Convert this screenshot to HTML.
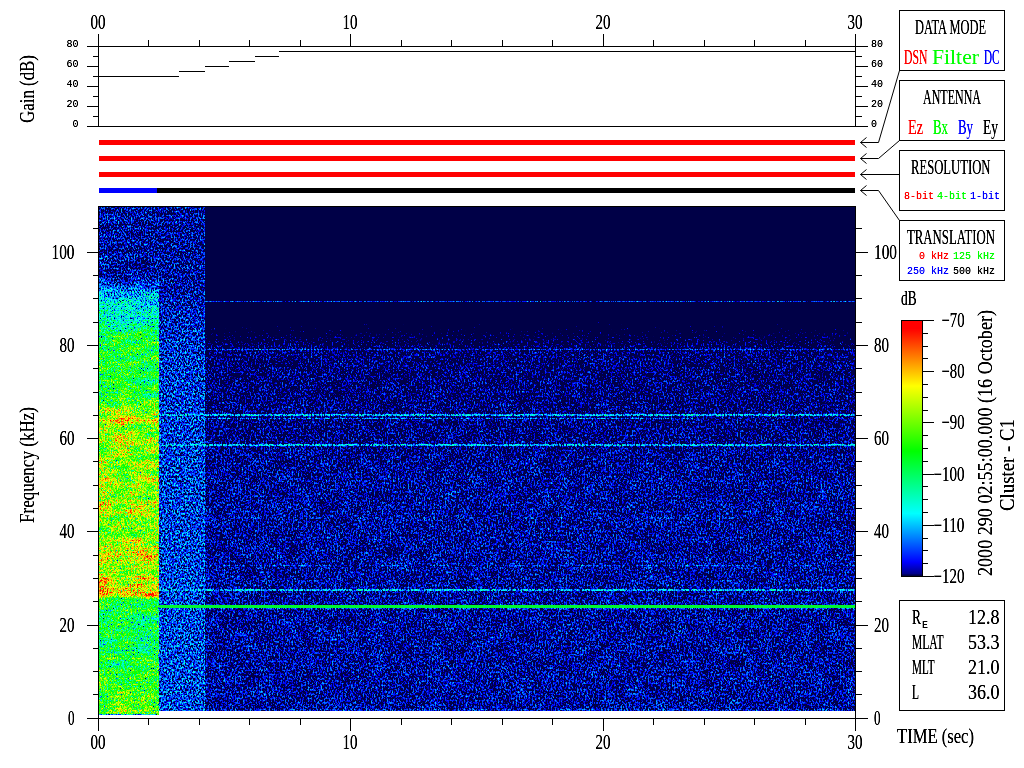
<!DOCTYPE html>
<html><head><meta charset="utf-8"><title>Cluster WBD spectrogram</title>
<style>html,body{margin:0;padding:0;background:#fff;width:1024px;height:768px;overflow:hidden}
svg{display:block}</style></head>
<body>
<svg width="1024" height="768" viewBox="0 0 1024 768">
<defs><linearGradient id="gA" gradientUnits="userSpaceOnUse" x1="0" y1="207" x2="0" y2="715"><stop offset="0.0000" stop-color="#3c3c3c"/><stop offset="0.1339" stop-color="#3c3c3c"/><stop offset="0.1555" stop-color="#4e4e4e"/><stop offset="0.1752" stop-color="#646464"/><stop offset="0.2185" stop-color="#767676"/><stop offset="0.2520" stop-color="#8f8f8f"/><stop offset="0.2717" stop-color="#9d9d9d"/><stop offset="0.3051" stop-color="#9d9d9d"/><stop offset="0.3248" stop-color="#979797"/><stop offset="0.3701" stop-color="#9b9b9b"/><stop offset="0.3898" stop-color="#afafaf"/><stop offset="0.4134" stop-color="#bcbcbc"/><stop offset="0.4193" stop-color="#cecece"/><stop offset="0.4252" stop-color="#cecece"/><stop offset="0.4311" stop-color="#bcbcbc"/><stop offset="0.4508" stop-color="#b6b6b6"/><stop offset="0.4606" stop-color="#c6c6c6"/><stop offset="0.4705" stop-color="#b6b6b6"/><stop offset="0.5276" stop-color="#b6b6b6"/><stop offset="0.5472" stop-color="#c2c2c2"/><stop offset="0.5768" stop-color="#bababa"/><stop offset="0.6004" stop-color="#c6c6c6"/><stop offset="0.6161" stop-color="#b6b6b6"/><stop offset="0.6358" stop-color="#b1b1b1"/><stop offset="0.6654" stop-color="#c2c2c2"/><stop offset="0.6870" stop-color="#cacaca"/><stop offset="0.7047" stop-color="#bebebe"/><stop offset="0.7343" stop-color="#c2c2c2"/><stop offset="0.7500" stop-color="#d6d6d6"/><stop offset="0.7657" stop-color="#d6d6d6"/><stop offset="0.7717" stop-color="#999999"/><stop offset="0.8130" stop-color="#8f8f8f"/><stop offset="0.8622" stop-color="#939393"/><stop offset="0.9114" stop-color="#9d9d9d"/><stop offset="0.9508" stop-color="#a3a3a3"/><stop offset="1.0000" stop-color="#a7a7a7"/></linearGradient><linearGradient id="gB" gradientUnits="userSpaceOnUse" x1="0" y1="207" x2="0" y2="715"><stop offset="0.0000" stop-color="#3c3c3c"/><stop offset="0.1535" stop-color="#3c3c3c"/><stop offset="0.2028" stop-color="#434343"/><stop offset="0.2815" stop-color="#484848"/><stop offset="0.5374" stop-color="#4b4b4b"/><stop offset="1.0000" stop-color="#4d4d4d"/></linearGradient><linearGradient id="gC" gradientUnits="userSpaceOnUse" x1="0" y1="207" x2="0" y2="715"><stop offset="0.0000" stop-color="#000000"/><stop offset="0.2067" stop-color="#000000"/><stop offset="0.2264" stop-color="#141414"/><stop offset="0.2520" stop-color="#232323"/><stop offset="0.2717" stop-color="#2d2d2d"/><stop offset="0.2854" stop-color="#333333"/><stop offset="0.3799" stop-color="#353535"/><stop offset="0.4587" stop-color="#373737"/><stop offset="0.5374" stop-color="#3b3b3b"/><stop offset="1.0000" stop-color="#3c3c3c"/></linearGradient><linearGradient id="cb" gradientUnits="userSpaceOnUse" x1="0" y1="576" x2="0" y2="321"><stop offset="0.0000" stop-color="rgb(0,0,72)"/><stop offset="0.0040" stop-color="rgb(0,0,72)"/><stop offset="0.0080" stop-color="rgb(0,0,135)"/><stop offset="0.0550" stop-color="rgb(0,0,255)"/><stop offset="0.2450" stop-color="rgb(0,255,255)"/><stop offset="0.4900" stop-color="rgb(0,255,0)"/><stop offset="0.7450" stop-color="rgb(255,255,0)"/><stop offset="0.9700" stop-color="rgb(255,0,0)"/><stop offset="1.0000" stop-color="rgb(255,0,0)"/></linearGradient><filter id="fA" filterUnits="userSpaceOnUse" x="99" y="207" width="60" height="508" color-interpolation-filters="sRGB"><feTurbulence type="fractalNoise" baseFrequency="0.7 0.5" numOctaves="2" seed="5"/><feComponentTransfer><feFuncR type="table" tableValues="0.000 0.000 0.000 0.000 0.000 0.000 0.000 0.000 0.000 0.000 0.000 0.000 0.000 0.000 0.000 0.000 0.000 0.000 0.000 0.000 0.000 0.000 0.000 0.000 0.000 0.000 0.000 0.000 0.000 0.000 0.000 0.000 0.000 0.000 0.000 0.000 0.000 0.000 0.000 0.000 0.000 0.000 0.000 0.012 0.030 0.046 0.062 0.076 0.090 0.105 0.119 0.133 0.146 0.159 0.172 0.184 0.198 0.210 0.223 0.235 0.247 0.260 0.271 0.283 0.294 0.307 0.320 0.332 0.344 0.355 0.366 0.377 0.387 0.397 0.406 0.416 0.425 0.433 0.441 0.449 0.456 0.463 0.470 0.477 0.484 0.490 0.496 0.502 0.509 0.514 0.521 0.526 0.532 0.537 0.542 0.547 0.552 0.557 0.562 0.567 0.572 0.577 0.582 0.587 0.592 0.596 0.601 0.606 0.611 0.616 0.621 0.625 0.630 0.635 0.640 0.645 0.650 0.654 0.659 0.664 0.668 0.673 0.678 0.682 0.687 0.691 0.696 0.700 0.712 0.725 0.729 0.733 0.737 0.741 0.745 0.749 0.753 0.758 0.763 0.768 0.773 0.778 0.783 0.787 0.792 0.796 0.801 0.805 0.809 0.813 0.817 0.821 0.824 0.828 0.832 0.836 0.839 0.843 0.846 0.850 0.853 0.857 0.860 0.864 0.867 0.871 0.875 0.878 0.882 0.885 0.889 0.892 0.896 0.899 0.903 0.907 0.911 0.914 0.919 0.923 0.927 0.932 0.936 0.941 0.945 0.950 0.954 0.958 0.963 0.968 0.973 0.978 0.982 0.986 0.990 0.994 0.998 1.000 1.000 1.000 1.000 1.000 1.000 1.000 1.000 1.000 1.000 1.000 1.000 1.000 1.000 1.000 1.000 1.000 1.000 1.000 1.000 1.000 1.000 1.000 1.000 1.000 1.000 1.000 1.000 1.000 1.000 1.000 1.000 1.000 1.000 1.000 1.000 1.000 1.000 1.000 1.000 1.000 1.000 1.000 1.000 1.000 1.000 1.000 1.000 1.000 1.000 1.000 1.000 1.000 1.000 1.000 1.000 1.000 1.000 1.000"/></feComponentTransfer><feColorMatrix type="matrix" values="1 0 0 0 0  1 0 0 0 0  1 0 0 0 0  0 0 0 0 1" result="q"/><feTurbulence type="fractalNoise" baseFrequency="0.045 0.13" numOctaves="2" seed="11"/><feColorMatrix type="matrix" values="1 0 0 0 0  1 0 0 0 0  1 0 0 0 0  0 0 0 0 1" result="lf"/><feComposite in="SourceGraphic" in2="lf" operator="arithmetic" k1="0.55" k2="0.725" k3="0" k4="0" result="L2"/><feComposite in="L2" in2="q" operator="arithmetic" k1="0.2760" k2="0.7930" k3="0.4470" k4="-0.3352"/><feComponentTransfer><feFuncR type="table" tableValues="0.000 0.000 0.000 0.000 0.000 0.000 0.000 0.000 0.000 0.000 0.000 0.000 0.000 0.000 0.000 0.000 0.000 0.000 0.000 0.000 0.000 0.000 0.000 0.000 0.000 0.000 0.000 0.000 0.000 0.000 0.000 0.000 0.000 0.000 0.000 0.000 0.000 0.000 0.000 0.000 0.000 0.000 0.000 0.000 0.000 0.000 0.000 0.000 0.000 0.000 0.000 0.000 0.000 0.000 0.000 0.000 0.000 0.000 0.000 0.000 0.000 0.000 0.000 0.000 0.000 0.000 0.000 0.000 0.000 0.000 0.000 0.000 0.000 0.000 0.000 0.000 0.000 0.000 0.000 0.000 0.000 0.000 0.000 0.000 0.000 0.000 0.000 0.000 0.000 0.000 0.000 0.000 0.000 0.000 0.000 0.000 0.000 0.000 0.000 0.000 0.000 0.000 0.000 0.000 0.000 0.000 0.000 0.000 0.000 0.000 0.000 0.000 0.000 0.000 0.000 0.000 0.000 0.000 0.000 0.000 0.000 0.000 0.000 0.000 0.000 0.000 0.000 0.000 0.000 0.000 0.000 0.000 0.000 0.000 0.000 0.000 0.000 0.000 0.000 0.000 0.000 0.000 0.000 0.000 0.000 0.000 0.000 0.000 0.000 0.000 0.000 0.001 0.020 0.039 0.058 0.078 0.097 0.116 0.135 0.155 0.174 0.193 0.212 0.231 0.251 0.270 0.289 0.308 0.328 0.347 0.366 0.385 0.404 0.424 0.443 0.462 0.481 0.501 0.520 0.539 0.558 0.577 0.597 0.616 0.635 0.654 0.674 0.693 0.712 0.731 0.750 0.770 0.789 0.808 0.827 0.847 0.866 0.885 0.904 0.923 0.943 0.962 0.981 1.000 1.000 1.000 1.000 1.000 1.000 1.000 1.000 1.000 1.000 1.000 1.000 1.000 1.000 1.000 1.000 1.000 1.000 1.000 1.000 1.000 1.000 1.000 1.000 1.000 1.000 1.000 1.000 1.000 1.000 1.000 1.000 1.000 1.000 1.000 1.000 1.000 1.000 1.000 1.000 1.000 1.000 1.000 1.000 1.000 1.000 1.000 1.000 1.000 1.000 1.000 1.000 1.000"/><feFuncG type="table" tableValues="0.000 0.000 0.000 0.000 0.000 0.000 0.000 0.000 0.000 0.000 0.000 0.000 0.000 0.000 0.000 0.000 0.000 0.000 0.000 0.000 0.000 0.000 0.000 0.000 0.000 0.000 0.000 0.000 0.000 0.000 0.000 0.000 0.000 0.000 0.000 0.000 0.000 0.000 0.000 0.000 0.000 0.000 0.000 0.000 0.000 0.000 0.000 0.000 0.000 0.000 0.000 0.000 0.000 0.000 0.000 0.000 0.000 0.000 0.000 0.000 0.000 0.000 0.000 0.020 0.046 0.072 0.098 0.123 0.149 0.175 0.201 0.227 0.252 0.278 0.304 0.330 0.356 0.381 0.407 0.433 0.459 0.485 0.510 0.536 0.562 0.588 0.614 0.639 0.665 0.691 0.717 0.743 0.768 0.794 0.820 0.846 0.872 0.897 0.923 0.949 0.975 1.000 1.000 1.000 1.000 1.000 1.000 1.000 1.000 1.000 1.000 1.000 1.000 1.000 1.000 1.000 1.000 1.000 1.000 1.000 1.000 1.000 1.000 1.000 1.000 1.000 1.000 1.000 1.000 1.000 1.000 1.000 1.000 1.000 1.000 1.000 1.000 1.000 1.000 1.000 1.000 1.000 1.000 1.000 1.000 1.000 1.000 1.000 1.000 1.000 1.000 1.000 1.000 1.000 1.000 1.000 1.000 1.000 1.000 1.000 1.000 1.000 1.000 1.000 1.000 1.000 1.000 1.000 1.000 1.000 1.000 1.000 1.000 1.000 1.000 1.000 1.000 1.000 1.000 1.000 1.000 1.000 1.000 1.000 1.000 1.000 1.000 1.000 1.000 1.000 1.000 1.000 1.000 1.000 1.000 1.000 1.000 1.000 1.000 1.000 1.000 1.000 1.000 1.000 0.978 0.956 0.934 0.912 0.891 0.869 0.847 0.825 0.803 0.782 0.760 0.738 0.716 0.695 0.673 0.651 0.629 0.607 0.586 0.564 0.542 0.520 0.498 0.477 0.455 0.433 0.411 0.390 0.368 0.346 0.324 0.302 0.281 0.259 0.237 0.215 0.193 0.172 0.150 0.128 0.106 0.085 0.063 0.041 0.019 0.000 0.000 0.000 0.000 0.000 0.000 0.000"/><feFuncB type="table" tableValues="0.282 0.282 0.282 0.282 0.282 0.282 0.282 0.282 0.282 0.282 0.282 0.282 0.282 0.282 0.282 0.282 0.282 0.282 0.282 0.282 0.282 0.282 0.282 0.282 0.282 0.282 0.282 0.282 0.282 0.282 0.282 0.282 0.282 0.282 0.282 0.282 0.282 0.282 0.282 0.282 0.282 0.282 0.282 0.282 0.282 0.282 0.282 0.282 0.282 0.282 0.282 0.282 0.338 0.547 0.597 0.646 0.695 0.744 0.793 0.842 0.891 0.940 0.989 1.000 1.000 1.000 1.000 1.000 1.000 1.000 1.000 1.000 1.000 1.000 1.000 1.000 1.000 1.000 1.000 1.000 1.000 1.000 1.000 1.000 1.000 1.000 1.000 1.000 1.000 1.000 1.000 1.000 1.000 1.000 1.000 1.000 1.000 1.000 1.000 1.000 1.000 1.000 0.980 0.960 0.940 0.920 0.900 0.880 0.860 0.840 0.820 0.800 0.780 0.760 0.739 0.719 0.699 0.679 0.659 0.639 0.619 0.599 0.579 0.559 0.539 0.519 0.499 0.479 0.459 0.439 0.419 0.399 0.379 0.359 0.339 0.319 0.299 0.279 0.259 0.239 0.219 0.199 0.179 0.159 0.139 0.119 0.099 0.079 0.059 0.039 0.019 0.000 0.000 0.000 0.000 0.000 0.000 0.000 0.000 0.000 0.000 0.000 0.000 0.000 0.000 0.000 0.000 0.000 0.000 0.000 0.000 0.000 0.000 0.000 0.000 0.000 0.000 0.000 0.000 0.000 0.000 0.000 0.000 0.000 0.000 0.000 0.000 0.000 0.000 0.000 0.000 0.000 0.000 0.000 0.000 0.000 0.000 0.000 0.000 0.000 0.000 0.000 0.000 0.000 0.000 0.000 0.000 0.000 0.000 0.000 0.000 0.000 0.000 0.000 0.000 0.000 0.000 0.000 0.000 0.000 0.000 0.000 0.000 0.000 0.000 0.000 0.000 0.000 0.000 0.000 0.000 0.000 0.000 0.000 0.000 0.000 0.000 0.000 0.000 0.000 0.000 0.000 0.000 0.000 0.000 0.000 0.000 0.000 0.000 0.000 0.000 0.000 0.000 0.000 0.000 0.000"/><feFuncA type="linear" slope="0" intercept="1"/></feComponentTransfer></filter><filter id="fB" filterUnits="userSpaceOnUse" x="159" y="207" width="46" height="508" color-interpolation-filters="sRGB"><feTurbulence type="fractalNoise" baseFrequency="0.62 0.46" numOctaves="2" seed="7"/><feComponentTransfer><feFuncR type="table" tableValues="0.000 0.000 0.000 0.000 0.000 0.000 0.000 0.000 0.000 0.000 0.000 0.000 0.000 0.000 0.000 0.000 0.000 0.000 0.000 0.000 0.000 0.000 0.000 0.000 0.000 0.000 0.000 0.000 0.000 0.000 0.000 0.000 0.000 0.000 0.000 0.000 0.000 0.000 0.000 0.000 0.000 0.000 0.000 0.000 0.008 0.024 0.041 0.059 0.075 0.090 0.105 0.119 0.133 0.146 0.160 0.175 0.188 0.201 0.215 0.228 0.241 0.253 0.266 0.278 0.289 0.301 0.312 0.323 0.334 0.345 0.355 0.366 0.376 0.385 0.394 0.404 0.413 0.421 0.430 0.438 0.446 0.454 0.462 0.470 0.477 0.484 0.490 0.498 0.504 0.510 0.517 0.523 0.529 0.535 0.541 0.547 0.553 0.559 0.564 0.569 0.575 0.580 0.586 0.591 0.596 0.601 0.606 0.611 0.616 0.621 0.626 0.631 0.636 0.641 0.646 0.650 0.655 0.660 0.664 0.669 0.674 0.678 0.683 0.688 0.692 0.697 0.702 0.706 0.710 0.716 0.720 0.724 0.729 0.733 0.737 0.741 0.745 0.748 0.752 0.757 0.761 0.765 0.769 0.773 0.777 0.781 0.785 0.788 0.792 0.796 0.800 0.803 0.807 0.810 0.814 0.817 0.821 0.824 0.828 0.831 0.834 0.838 0.841 0.845 0.848 0.851 0.854 0.857 0.861 0.864 0.867 0.870 0.874 0.877 0.880 0.883 0.887 0.890 0.893 0.896 0.900 0.903 0.906 0.909 0.912 0.916 0.919 0.922 0.925 0.929 0.932 0.935 0.938 0.941 0.945 0.948 0.951 0.954 0.957 0.960 0.964 0.967 0.970 0.973 0.976 0.978 0.981 0.983 0.986 0.989 0.992 0.995 0.997 0.999 1.000 1.000 1.000 1.000 1.000 1.000 1.000 1.000 1.000 1.000 1.000 1.000 1.000 1.000 1.000 1.000 1.000 1.000 1.000 1.000 1.000 1.000 1.000 1.000 1.000 1.000 1.000 1.000 1.000 1.000 1.000 1.000 1.000 1.000 1.000 1.000 1.000 1.000 1.000 1.000 1.000 1.000"/></feComponentTransfer><feColorMatrix type="matrix" values="1 0 0 0 0  1 0 0 0 0  1 0 0 0 0  0 0 0 0 1" result="q"/><feComposite in="SourceGraphic" in2="q" operator="arithmetic" k1="0.0000" k2="1.0000" k3="0.6400" k4="-0.4800"/><feComponentTransfer><feFuncR type="table" tableValues="0.000 0.000 0.000 0.000 0.000 0.000 0.000 0.000 0.000 0.000 0.000 0.000 0.000 0.000 0.000 0.000 0.000 0.000 0.000 0.000 0.000 0.000 0.000 0.000 0.000 0.000 0.000 0.000 0.000 0.000 0.000 0.000 0.000 0.000 0.000 0.000 0.000 0.000 0.000 0.000 0.000 0.000 0.000 0.000 0.000 0.000 0.000 0.000 0.000 0.000 0.000 0.000 0.000 0.000 0.000 0.000 0.000 0.000 0.000 0.000 0.000 0.000 0.000 0.000 0.000 0.000 0.000 0.000 0.000 0.000 0.000 0.000 0.000 0.000 0.000 0.000 0.000 0.000 0.000 0.000 0.000 0.000 0.000 0.000 0.000 0.000 0.000 0.000 0.000 0.000 0.000 0.000 0.000 0.000 0.000 0.000 0.000 0.000 0.000 0.000 0.000 0.000 0.000 0.000 0.000 0.000 0.000 0.000 0.000 0.000 0.000 0.000 0.000 0.000 0.000 0.000 0.000 0.000 0.000 0.000 0.000 0.000 0.000 0.000 0.000 0.000 0.000 0.000 0.000 0.000 0.000 0.000 0.000 0.000 0.000 0.000 0.000 0.000 0.000 0.000 0.000 0.000 0.000 0.000 0.000 0.000 0.000 0.000 0.000 0.000 0.000 0.001 0.020 0.039 0.058 0.078 0.097 0.116 0.135 0.155 0.174 0.193 0.212 0.231 0.251 0.270 0.289 0.308 0.328 0.347 0.366 0.385 0.404 0.424 0.443 0.462 0.481 0.501 0.520 0.539 0.558 0.577 0.597 0.616 0.635 0.654 0.674 0.693 0.712 0.731 0.750 0.770 0.789 0.808 0.827 0.847 0.866 0.885 0.904 0.923 0.943 0.962 0.981 1.000 1.000 1.000 1.000 1.000 1.000 1.000 1.000 1.000 1.000 1.000 1.000 1.000 1.000 1.000 1.000 1.000 1.000 1.000 1.000 1.000 1.000 1.000 1.000 1.000 1.000 1.000 1.000 1.000 1.000 1.000 1.000 1.000 1.000 1.000 1.000 1.000 1.000 1.000 1.000 1.000 1.000 1.000 1.000 1.000 1.000 1.000 1.000 1.000 1.000 1.000 1.000 1.000"/><feFuncG type="table" tableValues="0.000 0.000 0.000 0.000 0.000 0.000 0.000 0.000 0.000 0.000 0.000 0.000 0.000 0.000 0.000 0.000 0.000 0.000 0.000 0.000 0.000 0.000 0.000 0.000 0.000 0.000 0.000 0.000 0.000 0.000 0.000 0.000 0.000 0.000 0.000 0.000 0.000 0.000 0.000 0.000 0.000 0.000 0.000 0.000 0.000 0.000 0.000 0.000 0.000 0.000 0.000 0.000 0.000 0.000 0.000 0.000 0.000 0.000 0.000 0.000 0.000 0.000 0.000 0.020 0.046 0.072 0.098 0.123 0.149 0.175 0.201 0.227 0.252 0.278 0.304 0.330 0.356 0.381 0.407 0.433 0.459 0.485 0.510 0.536 0.562 0.588 0.614 0.639 0.665 0.691 0.717 0.743 0.768 0.794 0.820 0.846 0.872 0.897 0.923 0.949 0.975 1.000 1.000 1.000 1.000 1.000 1.000 1.000 1.000 1.000 1.000 1.000 1.000 1.000 1.000 1.000 1.000 1.000 1.000 1.000 1.000 1.000 1.000 1.000 1.000 1.000 1.000 1.000 1.000 1.000 1.000 1.000 1.000 1.000 1.000 1.000 1.000 1.000 1.000 1.000 1.000 1.000 1.000 1.000 1.000 1.000 1.000 1.000 1.000 1.000 1.000 1.000 1.000 1.000 1.000 1.000 1.000 1.000 1.000 1.000 1.000 1.000 1.000 1.000 1.000 1.000 1.000 1.000 1.000 1.000 1.000 1.000 1.000 1.000 1.000 1.000 1.000 1.000 1.000 1.000 1.000 1.000 1.000 1.000 1.000 1.000 1.000 1.000 1.000 1.000 1.000 1.000 1.000 1.000 1.000 1.000 1.000 1.000 1.000 1.000 1.000 1.000 1.000 1.000 0.978 0.956 0.934 0.912 0.891 0.869 0.847 0.825 0.803 0.782 0.760 0.738 0.716 0.695 0.673 0.651 0.629 0.607 0.586 0.564 0.542 0.520 0.498 0.477 0.455 0.433 0.411 0.390 0.368 0.346 0.324 0.302 0.281 0.259 0.237 0.215 0.193 0.172 0.150 0.128 0.106 0.085 0.063 0.041 0.019 0.000 0.000 0.000 0.000 0.000 0.000 0.000"/><feFuncB type="table" tableValues="0.282 0.282 0.282 0.282 0.282 0.282 0.282 0.282 0.282 0.282 0.282 0.282 0.282 0.282 0.282 0.282 0.282 0.282 0.282 0.282 0.282 0.282 0.282 0.282 0.282 0.282 0.282 0.282 0.282 0.282 0.282 0.282 0.282 0.282 0.282 0.282 0.282 0.282 0.282 0.282 0.282 0.282 0.282 0.282 0.282 0.282 0.282 0.282 0.282 0.282 0.282 0.282 0.338 0.547 0.597 0.646 0.695 0.744 0.793 0.842 0.891 0.940 0.989 1.000 1.000 1.000 1.000 1.000 1.000 1.000 1.000 1.000 1.000 1.000 1.000 1.000 1.000 1.000 1.000 1.000 1.000 1.000 1.000 1.000 1.000 1.000 1.000 1.000 1.000 1.000 1.000 1.000 1.000 1.000 1.000 1.000 1.000 1.000 1.000 1.000 1.000 1.000 0.980 0.960 0.940 0.920 0.900 0.880 0.860 0.840 0.820 0.800 0.780 0.760 0.739 0.719 0.699 0.679 0.659 0.639 0.619 0.599 0.579 0.559 0.539 0.519 0.499 0.479 0.459 0.439 0.419 0.399 0.379 0.359 0.339 0.319 0.299 0.279 0.259 0.239 0.219 0.199 0.179 0.159 0.139 0.119 0.099 0.079 0.059 0.039 0.019 0.000 0.000 0.000 0.000 0.000 0.000 0.000 0.000 0.000 0.000 0.000 0.000 0.000 0.000 0.000 0.000 0.000 0.000 0.000 0.000 0.000 0.000 0.000 0.000 0.000 0.000 0.000 0.000 0.000 0.000 0.000 0.000 0.000 0.000 0.000 0.000 0.000 0.000 0.000 0.000 0.000 0.000 0.000 0.000 0.000 0.000 0.000 0.000 0.000 0.000 0.000 0.000 0.000 0.000 0.000 0.000 0.000 0.000 0.000 0.000 0.000 0.000 0.000 0.000 0.000 0.000 0.000 0.000 0.000 0.000 0.000 0.000 0.000 0.000 0.000 0.000 0.000 0.000 0.000 0.000 0.000 0.000 0.000 0.000 0.000 0.000 0.000 0.000 0.000 0.000 0.000 0.000 0.000 0.000 0.000 0.000 0.000 0.000 0.000 0.000 0.000 0.000 0.000 0.000 0.000"/><feFuncA type="linear" slope="0" intercept="1"/></feComponentTransfer></filter><filter id="fC" filterUnits="userSpaceOnUse" x="205" y="207" width="650" height="508" color-interpolation-filters="sRGB"><feTurbulence type="fractalNoise" baseFrequency="0.62 0.46" numOctaves="2" seed="3"/><feComponentTransfer><feFuncR type="table" tableValues="0.000 0.000 0.000 0.000 0.000 0.000 0.000 0.000 0.000 0.000 0.000 0.000 0.000 0.000 0.000 0.000 0.000 0.000 0.000 0.000 0.000 0.000 0.000 0.000 0.000 0.000 0.000 0.000 0.000 0.000 0.000 0.000 0.000 0.000 0.000 0.000 0.000 0.000 0.000 0.000 0.000 0.000 0.000 0.000 0.006 0.022 0.038 0.056 0.075 0.091 0.106 0.123 0.139 0.155 0.169 0.182 0.197 0.211 0.223 0.236 0.248 0.260 0.272 0.284 0.296 0.307 0.318 0.328 0.339 0.349 0.360 0.370 0.380 0.390 0.399 0.408 0.417 0.425 0.433 0.441 0.448 0.456 0.464 0.471 0.479 0.486 0.493 0.500 0.506 0.513 0.519 0.526 0.532 0.538 0.544 0.550 0.556 0.561 0.567 0.573 0.578 0.583 0.589 0.594 0.599 0.605 0.610 0.615 0.620 0.624 0.629 0.634 0.639 0.644 0.648 0.653 0.658 0.663 0.667 0.672 0.677 0.681 0.686 0.690 0.695 0.700 0.704 0.708 0.712 0.718 0.722 0.726 0.730 0.734 0.738 0.742 0.746 0.749 0.753 0.756 0.760 0.763 0.767 0.770 0.773 0.776 0.779 0.782 0.785 0.788 0.791 0.794 0.797 0.800 0.803 0.806 0.808 0.811 0.814 0.816 0.819 0.822 0.824 0.827 0.830 0.832 0.835 0.838 0.840 0.843 0.846 0.848 0.851 0.853 0.856 0.859 0.861 0.864 0.866 0.869 0.871 0.874 0.877 0.879 0.882 0.884 0.887 0.890 0.892 0.895 0.897 0.900 0.903 0.905 0.908 0.911 0.913 0.916 0.919 0.921 0.924 0.927 0.929 0.932 0.935 0.937 0.939 0.942 0.944 0.946 0.948 0.951 0.953 0.955 0.958 0.960 0.963 0.966 0.968 0.971 0.974 0.977 0.980 0.982 0.984 0.986 0.989 0.993 0.997 1.000 1.000 1.000 1.000 1.000 1.000 1.000 1.000 1.000 1.000 1.000 1.000 1.000 1.000 1.000 1.000 1.000 1.000 1.000 1.000 1.000 1.000 1.000 1.000 1.000 1.000 1.000"/></feComponentTransfer><feColorMatrix type="matrix" values="1 0 0 0 0  1 0 0 0 0  1 0 0 0 0  0 0 0 0 1" result="q"/><feTurbulence type="fractalNoise" baseFrequency="0.07 0.07" numOctaves="2" seed="21"/><feColorMatrix type="matrix" values="1 0 0 0 0  1 0 0 0 0  1 0 0 0 0  0 0 0 0 1" result="lf"/><feComposite in="SourceGraphic" in2="lf" operator="arithmetic" k1="0.43" k2="0.785" k3="0" k4="0" result="L2"/><feComposite in="L2" in2="q" operator="arithmetic" k1="0.0000" k2="1.0000" k3="0.6400" k4="-0.4800"/><feComponentTransfer><feFuncR type="table" tableValues="0.000 0.000 0.000 0.000 0.000 0.000 0.000 0.000 0.000 0.000 0.000 0.000 0.000 0.000 0.000 0.000 0.000 0.000 0.000 0.000 0.000 0.000 0.000 0.000 0.000 0.000 0.000 0.000 0.000 0.000 0.000 0.000 0.000 0.000 0.000 0.000 0.000 0.000 0.000 0.000 0.000 0.000 0.000 0.000 0.000 0.000 0.000 0.000 0.000 0.000 0.000 0.000 0.000 0.000 0.000 0.000 0.000 0.000 0.000 0.000 0.000 0.000 0.000 0.000 0.000 0.000 0.000 0.000 0.000 0.000 0.000 0.000 0.000 0.000 0.000 0.000 0.000 0.000 0.000 0.000 0.000 0.000 0.000 0.000 0.000 0.000 0.000 0.000 0.000 0.000 0.000 0.000 0.000 0.000 0.000 0.000 0.000 0.000 0.000 0.000 0.000 0.000 0.000 0.000 0.000 0.000 0.000 0.000 0.000 0.000 0.000 0.000 0.000 0.000 0.000 0.000 0.000 0.000 0.000 0.000 0.000 0.000 0.000 0.000 0.000 0.000 0.000 0.000 0.000 0.000 0.000 0.000 0.000 0.000 0.000 0.000 0.000 0.000 0.000 0.000 0.000 0.000 0.000 0.000 0.000 0.000 0.000 0.000 0.000 0.000 0.000 0.001 0.020 0.039 0.058 0.078 0.097 0.116 0.135 0.155 0.174 0.193 0.212 0.231 0.251 0.270 0.289 0.308 0.328 0.347 0.366 0.385 0.404 0.424 0.443 0.462 0.481 0.501 0.520 0.539 0.558 0.577 0.597 0.616 0.635 0.654 0.674 0.693 0.712 0.731 0.750 0.770 0.789 0.808 0.827 0.847 0.866 0.885 0.904 0.923 0.943 0.962 0.981 1.000 1.000 1.000 1.000 1.000 1.000 1.000 1.000 1.000 1.000 1.000 1.000 1.000 1.000 1.000 1.000 1.000 1.000 1.000 1.000 1.000 1.000 1.000 1.000 1.000 1.000 1.000 1.000 1.000 1.000 1.000 1.000 1.000 1.000 1.000 1.000 1.000 1.000 1.000 1.000 1.000 1.000 1.000 1.000 1.000 1.000 1.000 1.000 1.000 1.000 1.000 1.000 1.000"/><feFuncG type="table" tableValues="0.000 0.000 0.000 0.000 0.000 0.000 0.000 0.000 0.000 0.000 0.000 0.000 0.000 0.000 0.000 0.000 0.000 0.000 0.000 0.000 0.000 0.000 0.000 0.000 0.000 0.000 0.000 0.000 0.000 0.000 0.000 0.000 0.000 0.000 0.000 0.000 0.000 0.000 0.000 0.000 0.000 0.000 0.000 0.000 0.000 0.000 0.000 0.000 0.000 0.000 0.000 0.000 0.000 0.000 0.000 0.000 0.000 0.000 0.000 0.000 0.000 0.000 0.000 0.020 0.046 0.072 0.098 0.123 0.149 0.175 0.201 0.227 0.252 0.278 0.304 0.330 0.356 0.381 0.407 0.433 0.459 0.485 0.510 0.536 0.562 0.588 0.614 0.639 0.665 0.691 0.717 0.743 0.768 0.794 0.820 0.846 0.872 0.897 0.923 0.949 0.975 1.000 1.000 1.000 1.000 1.000 1.000 1.000 1.000 1.000 1.000 1.000 1.000 1.000 1.000 1.000 1.000 1.000 1.000 1.000 1.000 1.000 1.000 1.000 1.000 1.000 1.000 1.000 1.000 1.000 1.000 1.000 1.000 1.000 1.000 1.000 1.000 1.000 1.000 1.000 1.000 1.000 1.000 1.000 1.000 1.000 1.000 1.000 1.000 1.000 1.000 1.000 1.000 1.000 1.000 1.000 1.000 1.000 1.000 1.000 1.000 1.000 1.000 1.000 1.000 1.000 1.000 1.000 1.000 1.000 1.000 1.000 1.000 1.000 1.000 1.000 1.000 1.000 1.000 1.000 1.000 1.000 1.000 1.000 1.000 1.000 1.000 1.000 1.000 1.000 1.000 1.000 1.000 1.000 1.000 1.000 1.000 1.000 1.000 1.000 1.000 1.000 1.000 1.000 0.978 0.956 0.934 0.912 0.891 0.869 0.847 0.825 0.803 0.782 0.760 0.738 0.716 0.695 0.673 0.651 0.629 0.607 0.586 0.564 0.542 0.520 0.498 0.477 0.455 0.433 0.411 0.390 0.368 0.346 0.324 0.302 0.281 0.259 0.237 0.215 0.193 0.172 0.150 0.128 0.106 0.085 0.063 0.041 0.019 0.000 0.000 0.000 0.000 0.000 0.000 0.000"/><feFuncB type="table" tableValues="0.282 0.282 0.282 0.282 0.282 0.282 0.282 0.282 0.282 0.282 0.282 0.282 0.282 0.282 0.282 0.282 0.282 0.282 0.282 0.282 0.282 0.282 0.282 0.282 0.282 0.282 0.282 0.282 0.282 0.282 0.282 0.282 0.282 0.282 0.282 0.282 0.282 0.282 0.282 0.282 0.282 0.282 0.282 0.282 0.282 0.282 0.282 0.282 0.282 0.282 0.282 0.282 0.338 0.547 0.597 0.646 0.695 0.744 0.793 0.842 0.891 0.940 0.989 1.000 1.000 1.000 1.000 1.000 1.000 1.000 1.000 1.000 1.000 1.000 1.000 1.000 1.000 1.000 1.000 1.000 1.000 1.000 1.000 1.000 1.000 1.000 1.000 1.000 1.000 1.000 1.000 1.000 1.000 1.000 1.000 1.000 1.000 1.000 1.000 1.000 1.000 1.000 0.980 0.960 0.940 0.920 0.900 0.880 0.860 0.840 0.820 0.800 0.780 0.760 0.739 0.719 0.699 0.679 0.659 0.639 0.619 0.599 0.579 0.559 0.539 0.519 0.499 0.479 0.459 0.439 0.419 0.399 0.379 0.359 0.339 0.319 0.299 0.279 0.259 0.239 0.219 0.199 0.179 0.159 0.139 0.119 0.099 0.079 0.059 0.039 0.019 0.000 0.000 0.000 0.000 0.000 0.000 0.000 0.000 0.000 0.000 0.000 0.000 0.000 0.000 0.000 0.000 0.000 0.000 0.000 0.000 0.000 0.000 0.000 0.000 0.000 0.000 0.000 0.000 0.000 0.000 0.000 0.000 0.000 0.000 0.000 0.000 0.000 0.000 0.000 0.000 0.000 0.000 0.000 0.000 0.000 0.000 0.000 0.000 0.000 0.000 0.000 0.000 0.000 0.000 0.000 0.000 0.000 0.000 0.000 0.000 0.000 0.000 0.000 0.000 0.000 0.000 0.000 0.000 0.000 0.000 0.000 0.000 0.000 0.000 0.000 0.000 0.000 0.000 0.000 0.000 0.000 0.000 0.000 0.000 0.000 0.000 0.000 0.000 0.000 0.000 0.000 0.000 0.000 0.000 0.000 0.000 0.000 0.000 0.000 0.000 0.000 0.000 0.000 0.000 0.000"/><feFuncA type="linear" slope="0" intercept="1"/></feComponentTransfer></filter><filter id="tx" filterUnits="userSpaceOnUse" x="0" y="0" width="1024" height="768" color-interpolation-filters="sRGB"><feComponentTransfer><feFuncA type="linear" slope="1.4"/></feComponentTransfer></filter></defs>
<g filter="url(#fA)" shape-rendering="crispEdges"><rect x="99" y="207" width="60" height="508" fill="url(#gA)"/><rect x="99" y="714" width="58" height="1" fill="#5c5c5c"/></g><g filter="url(#fB)" shape-rendering="crispEdges"><rect x="159" y="207" width="46" height="508" fill="url(#gB)"/><rect x="159" y="414" width="46" height="2" fill="#626262"/><rect x="159" y="444" width="46" height="2" fill="#616161"/><rect x="159" y="589" width="46" height="2" fill="#636363"/><rect x="159" y="608" width="46" height="1" fill="#4b4b4b"/><rect x="204" y="207" width="1" height="508" fill="#fff" fill-opacity="0.06"/></g><g filter="url(#fC)" shape-rendering="crispEdges"><rect x="205" y="207" width="650" height="508" fill="url(#gC)"/><rect x="205" y="301" width="650" height="1" fill="#494949"/><rect x="205" y="349" width="650" height="1" fill="#4b4b4b"/><rect x="205" y="414" width="650" height="2" fill="#626262"/><rect x="205" y="418" width="488" height="1" fill="#525252"/><rect x="205" y="444" width="650" height="2" fill="#616161"/><rect x="205" y="517" width="650" height="2" fill="#3f3f3f"/><rect x="205" y="565" width="650" height="1" fill="#474747"/><rect x="205" y="589" width="650" height="2" fill="#636363"/><rect x="205" y="608" width="650" height="1" fill="#4b4b4b"/><rect x="205" y="709" width="650" height="2" fill="#454545"/></g>
<g shape-rendering="crispEdges"><rect x="159" y="605" width="696" height="3" fill="rgb(0,245,50)"/><rect x="159" y="711" width="696" height="5" fill="#fff"/></g>
<g shape-rendering="crispEdges"><rect x="99" y="140" width="756" height="5" fill="#f00"/><rect x="99" y="156" width="756" height="5" fill="#f00"/><rect x="99" y="172" width="756" height="5" fill="#f00"/><rect x="99" y="188" width="58" height="5" fill="#00f"/><rect x="157" y="188" width="698" height="5" fill="#000"/></g>
<g stroke="#000" stroke-width="1" fill="none" shape-rendering="crispEdges"><path d="M87 46.5 H868"/><path d="M87 126.5 H868"/><path d="M98.5 34 V127"/><path d="M855.5 34 V127"/><path d="M93 116.5 H99"/><path d="M855 116.5 H862"/><path d="M87 106.5 H99"/><path d="M855 106.5 H868"/><path d="M93 96.5 H99"/><path d="M855 96.5 H862"/><path d="M87 86.5 H99"/><path d="M855 86.5 H868"/><path d="M93 76.5 H99"/><path d="M855 76.5 H862"/><path d="M87 66.5 H99"/><path d="M855 66.5 H868"/><path d="M93 56.5 H99"/><path d="M855 56.5 H862"/><path d="M148.5 40 V47"/><path d="M199.5 40 V47"/><path d="M249.5 40 V47"/><path d="M300.5 40 V47"/><path d="M350.5 34 V47"/><path d="M401.5 40 V47"/><path d="M451.5 40 V47"/><path d="M502.5 40 V47"/><path d="M552.5 40 V47"/><path d="M603.5 34 V47"/><path d="M653.5 40 V47"/><path d="M704.5 40 V47"/><path d="M754.5 40 V47"/><path d="M805.5 40 V47"/><path d="M98 76.5 H179"/><path d="M179 71.5 H205"/><path d="M205 66.5 H229"/><path d="M229 61.5 H255"/><path d="M255 56.5 H279"/><path d="M279 51.5 H856"/><path d="M98 206.5 H856"/><path d="M87 718.5 H868"/><path d="M98.5 206 V731"/><path d="M855.5 206 V731"/><path d="M93 694.5 H99"/><path d="M855 694.5 H862"/><path d="M93 671.5 H99"/><path d="M855 671.5 H862"/><path d="M93 648.5 H99"/><path d="M855 648.5 H862"/><path d="M87 625.5 H99"/><path d="M855 625.5 H868"/><path d="M93 601.5 H99"/><path d="M855 601.5 H862"/><path d="M93 578.5 H99"/><path d="M855 578.5 H862"/><path d="M93 555.5 H99"/><path d="M855 555.5 H862"/><path d="M87 531.5 H99"/><path d="M855 531.5 H868"/><path d="M93 508.5 H99"/><path d="M855 508.5 H862"/><path d="M93 485.5 H99"/><path d="M855 485.5 H862"/><path d="M93 461.5 H99"/><path d="M855 461.5 H862"/><path d="M87 438.5 H99"/><path d="M855 438.5 H868"/><path d="M93 415.5 H99"/><path d="M855 415.5 H862"/><path d="M93 392.5 H99"/><path d="M855 392.5 H862"/><path d="M93 368.5 H99"/><path d="M855 368.5 H862"/><path d="M87 345.5 H99"/><path d="M855 345.5 H868"/><path d="M93 322.5 H99"/><path d="M855 322.5 H862"/><path d="M93 298.5 H99"/><path d="M855 298.5 H862"/><path d="M93 275.5 H99"/><path d="M855 275.5 H862"/><path d="M87 252.5 H99"/><path d="M855 252.5 H868"/><path d="M93 228.5 H99"/><path d="M855 228.5 H862"/><path d="M148.5 718 V725"/><path d="M199.5 718 V725"/><path d="M249.5 718 V725"/><path d="M300.5 718 V725"/><path d="M350.5 718 V731"/><path d="M401.5 718 V725"/><path d="M451.5 718 V725"/><path d="M502.5 718 V725"/><path d="M552.5 718 V725"/><path d="M603.5 718 V731"/><path d="M653.5 718 V725"/><path d="M704.5 718 V725"/><path d="M754.5 718 V725"/><path d="M805.5 718 V725"/><rect x="899.5" y="10.5" width="105" height="60"/><rect x="899.5" y="80.5" width="105" height="60"/><rect x="899.5" y="150.5" width="105" height="60"/><rect x="899.5" y="220.5" width="105" height="60"/><rect x="899.5" y="600.5" width="105" height="110"/><rect x="901.5" y="320.5" width="21" height="256" fill="url(#cb)"/><path d="M922 320.5 H934"/><path d="M922 333.5 H928"/><path d="M922 346.5 H928"/><path d="M922 358.5 H928"/><path d="M922 371.5 H934"/><path d="M922 384.5 H928"/><path d="M922 397.5 H928"/><path d="M922 410.5 H928"/><path d="M922 422.5 H934"/><path d="M922 435.5 H928"/><path d="M922 448.5 H928"/><path d="M922 461.5 H928"/><path d="M922 474.5 H934"/><path d="M922 486.5 H928"/><path d="M922 499.5 H928"/><path d="M922 512.5 H928"/><path d="M922 525.5 H934"/><path d="M922 538.5 H928"/><path d="M922 550.5 H928"/><path d="M922 563.5 H928"/><path d="M922 576.5 H934"/></g>
<g stroke="#000" stroke-width="1" fill="none"><path d="M866.5 137.5 L860.5 142.5 L866.5 147.5"/><path d="M866.5 153.5 L860.5 158.5 L866.5 163.5"/><path d="M866.5 169.5 L860.5 174.5 L866.5 179.5"/><path d="M866.5 185.5 L860.5 190.5 L866.5 195.5"/><path d="M860.5 142.5 H878.5 L899.5 70.5"/><path d="M860.5 158.5 H878.5 L899.5 140.5"/><path d="M860.5 174.5 H899.5"/><path d="M860.5 190.5 H878.5 L899.5 220.5"/></g>
<g filter="url(#tx)"><text x="98" y="29" font-size="21" font-family="'Liberation Serif', serif" fill="#000" text-anchor="middle" textLength="15" lengthAdjust="spacingAndGlyphs" >00</text>
<text x="350" y="29" font-size="21" font-family="'Liberation Serif', serif" fill="#000" text-anchor="middle" textLength="15" lengthAdjust="spacingAndGlyphs" >10</text>
<text x="603" y="29" font-size="21" font-family="'Liberation Serif', serif" fill="#000" text-anchor="middle" textLength="15" lengthAdjust="spacingAndGlyphs" >20</text>
<text x="855" y="29" font-size="21" font-family="'Liberation Serif', serif" fill="#000" text-anchor="middle" textLength="15" lengthAdjust="spacingAndGlyphs" >30</text>
<text x="98" y="749" font-size="21" font-family="'Liberation Serif', serif" fill="#000" text-anchor="middle" textLength="15" lengthAdjust="spacingAndGlyphs" >00</text>
<text x="350" y="749" font-size="21" font-family="'Liberation Serif', serif" fill="#000" text-anchor="middle" textLength="15" lengthAdjust="spacingAndGlyphs" >10</text>
<text x="603" y="749" font-size="21" font-family="'Liberation Serif', serif" fill="#000" text-anchor="middle" textLength="15" lengthAdjust="spacingAndGlyphs" >20</text>
<text x="855" y="749" font-size="21" font-family="'Liberation Serif', serif" fill="#000" text-anchor="middle" textLength="15" lengthAdjust="spacingAndGlyphs" >30</text>
<text x="74.5" y="725" font-size="21" font-family="'Liberation Serif', serif" fill="#000" text-anchor="end" textLength="6.5" lengthAdjust="spacingAndGlyphs" >0</text>
<text x="874" y="725" font-size="21" font-family="'Liberation Serif', serif" fill="#000" text-anchor="start" textLength="6.5" lengthAdjust="spacingAndGlyphs" >0</text>
<text x="74.5" y="632" font-size="21" font-family="'Liberation Serif', serif" fill="#000" text-anchor="end" textLength="15" lengthAdjust="spacingAndGlyphs" >20</text>
<text x="874" y="632" font-size="21" font-family="'Liberation Serif', serif" fill="#000" text-anchor="start" textLength="15" lengthAdjust="spacingAndGlyphs" >20</text>
<text x="74.5" y="538" font-size="21" font-family="'Liberation Serif', serif" fill="#000" text-anchor="end" textLength="15" lengthAdjust="spacingAndGlyphs" >40</text>
<text x="874" y="538" font-size="21" font-family="'Liberation Serif', serif" fill="#000" text-anchor="start" textLength="15" lengthAdjust="spacingAndGlyphs" >40</text>
<text x="74.5" y="445" font-size="21" font-family="'Liberation Serif', serif" fill="#000" text-anchor="end" textLength="15" lengthAdjust="spacingAndGlyphs" >60</text>
<text x="874" y="445" font-size="21" font-family="'Liberation Serif', serif" fill="#000" text-anchor="start" textLength="15" lengthAdjust="spacingAndGlyphs" >60</text>
<text x="74.5" y="352" font-size="21" font-family="'Liberation Serif', serif" fill="#000" text-anchor="end" textLength="15" lengthAdjust="spacingAndGlyphs" >80</text>
<text x="874" y="352" font-size="21" font-family="'Liberation Serif', serif" fill="#000" text-anchor="start" textLength="15" lengthAdjust="spacingAndGlyphs" >80</text>
<text x="74.5" y="259" font-size="21" font-family="'Liberation Serif', serif" fill="#000" text-anchor="end" textLength="23" lengthAdjust="spacingAndGlyphs" >100</text>
<text x="874" y="259" font-size="21" font-family="'Liberation Serif', serif" fill="#000" text-anchor="start" textLength="23" lengthAdjust="spacingAndGlyphs" >100</text>
<text x="78.5" y="127" font-size="10" font-family="'Liberation Mono', monospace" fill="#000" text-anchor="end" >0</text>
<text x="871" y="127" font-size="10" font-family="'Liberation Mono', monospace" fill="#000" text-anchor="start" >0</text>
<text x="78.5" y="107" font-size="10" font-family="'Liberation Mono', monospace" fill="#000" text-anchor="end" >20</text>
<text x="871" y="107" font-size="10" font-family="'Liberation Mono', monospace" fill="#000" text-anchor="start" >20</text>
<text x="78.5" y="87" font-size="10" font-family="'Liberation Mono', monospace" fill="#000" text-anchor="end" >40</text>
<text x="871" y="87" font-size="10" font-family="'Liberation Mono', monospace" fill="#000" text-anchor="start" >40</text>
<text x="78.5" y="67" font-size="10" font-family="'Liberation Mono', monospace" fill="#000" text-anchor="end" >60</text>
<text x="871" y="67" font-size="10" font-family="'Liberation Mono', monospace" fill="#000" text-anchor="start" >60</text>
<text x="78.5" y="47" font-size="10" font-family="'Liberation Mono', monospace" fill="#000" text-anchor="end" >80</text>
<text x="871" y="47" font-size="10" font-family="'Liberation Mono', monospace" fill="#000" text-anchor="start" >80</text>
<text x="34" y="123" font-size="20" font-family="'Liberation Serif', serif" fill="#000" text-anchor="start" textLength="68" lengthAdjust="spacingAndGlyphs" transform="rotate(-90 34 123)" >Gain (dB)</text>
<text x="34" y="523" font-size="20" font-family="'Liberation Serif', serif" fill="#000" text-anchor="start" textLength="116" lengthAdjust="spacingAndGlyphs" transform="rotate(-90 34 523)" >Frequency (kHz)</text>
<text x="897" y="743" font-size="20" font-family="'Liberation Serif', serif" fill="#000" text-anchor="start" textLength="77" lengthAdjust="spacingAndGlyphs" >TIME (sec)</text>
<text x="915" y="34" font-size="20" font-family="'Liberation Serif', serif" fill="#000" text-anchor="start" textLength="71" lengthAdjust="spacingAndGlyphs" >DATA MODE</text>
<text x="904" y="64" font-size="20" font-family="'Liberation Serif', serif" fill="#f00" text-anchor="start" textLength="23.5" lengthAdjust="spacingAndGlyphs" >DSN</text>
<text x="932" y="64" font-size="20" font-family="'Liberation Serif', serif" fill="#0f0" text-anchor="start" textLength="47" lengthAdjust="spacingAndGlyphs" opacity="0.8">Filter</text>
<text x="984" y="64" font-size="20" font-family="'Liberation Serif', serif" fill="#00f" text-anchor="start" textLength="15.5" lengthAdjust="spacingAndGlyphs" >DC</text>
<text x="923" y="104" font-size="20" font-family="'Liberation Serif', serif" fill="#000" text-anchor="start" textLength="58" lengthAdjust="spacingAndGlyphs" >ANTENNA</text>
<text x="908" y="134" font-size="20" font-family="'Liberation Serif', serif" fill="#f00" text-anchor="start" textLength="15" lengthAdjust="spacingAndGlyphs" >Ez</text>
<text x="933" y="134" font-size="20" font-family="'Liberation Serif', serif" fill="#0f0" text-anchor="start" textLength="15" lengthAdjust="spacingAndGlyphs" >Bx</text>
<text x="958" y="134" font-size="20" font-family="'Liberation Serif', serif" fill="#00f" text-anchor="start" textLength="15" lengthAdjust="spacingAndGlyphs" >By</text>
<text x="983" y="134" font-size="20" font-family="'Liberation Serif', serif" fill="#000" text-anchor="start" textLength="15" lengthAdjust="spacingAndGlyphs" >Ey</text>
<text x="911" y="174" font-size="20" font-family="'Liberation Serif', serif" fill="#000" text-anchor="start" textLength="79.5" lengthAdjust="spacingAndGlyphs" >RESOLUTION</text>
<text x="904" y="199" font-size="10" font-family="'Liberation Mono', monospace" fill="#f00" text-anchor="start" >8-bit</text>
<text x="937" y="199" font-size="10" font-family="'Liberation Mono', monospace" fill="#0f0" text-anchor="start" >4-bit</text>
<text x="970" y="199" font-size="10" font-family="'Liberation Mono', monospace" fill="#00f" text-anchor="start" >1-bit</text>
<text x="907" y="244" font-size="20" font-family="'Liberation Serif', serif" fill="#000" text-anchor="start" textLength="88" lengthAdjust="spacingAndGlyphs" >TRANSLATION</text>
<text x="949" y="259" font-size="10" font-family="'Liberation Mono', monospace" fill="#f00" text-anchor="end" >0 kHz</text>
<text x="953" y="259" font-size="10" font-family="'Liberation Mono', monospace" fill="#0f0" text-anchor="start" >125 kHz</text>
<text x="949" y="274" font-size="10" font-family="'Liberation Mono', monospace" fill="#00f" text-anchor="end" >250 kHz</text>
<text x="953" y="274" font-size="10" font-family="'Liberation Mono', monospace" fill="#000" text-anchor="start" >500 kHz</text>
<text x="901" y="305" font-size="20" font-family="'Liberation Serif', serif" fill="#000" text-anchor="start" textLength="15.5" lengthAdjust="spacingAndGlyphs" >dB</text>
<text x="964.5" y="327" font-size="21" font-family="'Liberation Serif', serif" fill="#000" text-anchor="end" textLength="23" lengthAdjust="spacingAndGlyphs" >−70</text>
<text x="964.5" y="378" font-size="21" font-family="'Liberation Serif', serif" fill="#000" text-anchor="end" textLength="23" lengthAdjust="spacingAndGlyphs" >−80</text>
<text x="964.5" y="429" font-size="21" font-family="'Liberation Serif', serif" fill="#000" text-anchor="end" textLength="23" lengthAdjust="spacingAndGlyphs" >−90</text>
<text x="964.5" y="481" font-size="21" font-family="'Liberation Serif', serif" fill="#000" text-anchor="end" textLength="31" lengthAdjust="spacingAndGlyphs" >−100</text>
<text x="964.5" y="532" font-size="21" font-family="'Liberation Serif', serif" fill="#000" text-anchor="end" textLength="31" lengthAdjust="spacingAndGlyphs" >−110</text>
<text x="964.5" y="583" font-size="21" font-family="'Liberation Serif', serif" fill="#000" text-anchor="end" textLength="31" lengthAdjust="spacingAndGlyphs" >−120</text>
<text x="992" y="576" font-size="20" font-family="'Liberation Serif', serif" fill="#000" text-anchor="start" textLength="266" lengthAdjust="spacingAndGlyphs" transform="rotate(-90 992 576)" >2000 290 02:55:00.000 (16 October)</text>
<text x="1014" y="511" font-size="20" font-family="'Liberation Serif', serif" fill="#000" text-anchor="start" textLength="92" lengthAdjust="spacingAndGlyphs" transform="rotate(-90 1014 511)" >Cluster - C1</text>
<text x="912" y="624" font-size="20" font-family="'Liberation Serif', serif" fill="#000" text-anchor="start" textLength="9" lengthAdjust="spacingAndGlyphs" >R</text>
<text x="922" y="628" font-size="10" font-family="'Liberation Mono', monospace" fill="#000" text-anchor="start" >E</text>
<text x="912" y="649" font-size="20" font-family="'Liberation Serif', serif" fill="#000" text-anchor="start" textLength="31.5" lengthAdjust="spacingAndGlyphs" >MLAT</text>
<text x="912" y="674" font-size="20" font-family="'Liberation Serif', serif" fill="#000" text-anchor="start" textLength="22.5" lengthAdjust="spacingAndGlyphs" >MLT</text>
<text x="912" y="699" font-size="20" font-family="'Liberation Serif', serif" fill="#000" text-anchor="start" textLength="7" lengthAdjust="spacingAndGlyphs" >L</text>
<text x="999.5" y="624" font-size="21" font-family="'Liberation Serif', serif" fill="#000" text-anchor="end" textLength="31.5" lengthAdjust="spacingAndGlyphs" >12.8</text>
<text x="999.5" y="649" font-size="21" font-family="'Liberation Serif', serif" fill="#000" text-anchor="end" textLength="31.5" lengthAdjust="spacingAndGlyphs" >53.3</text>
<text x="999.5" y="674" font-size="21" font-family="'Liberation Serif', serif" fill="#000" text-anchor="end" textLength="31.5" lengthAdjust="spacingAndGlyphs" >21.0</text>
<text x="999.5" y="699" font-size="21" font-family="'Liberation Serif', serif" fill="#000" text-anchor="end" textLength="31.5" lengthAdjust="spacingAndGlyphs" >36.0</text></g>
</svg>
</body></html>
